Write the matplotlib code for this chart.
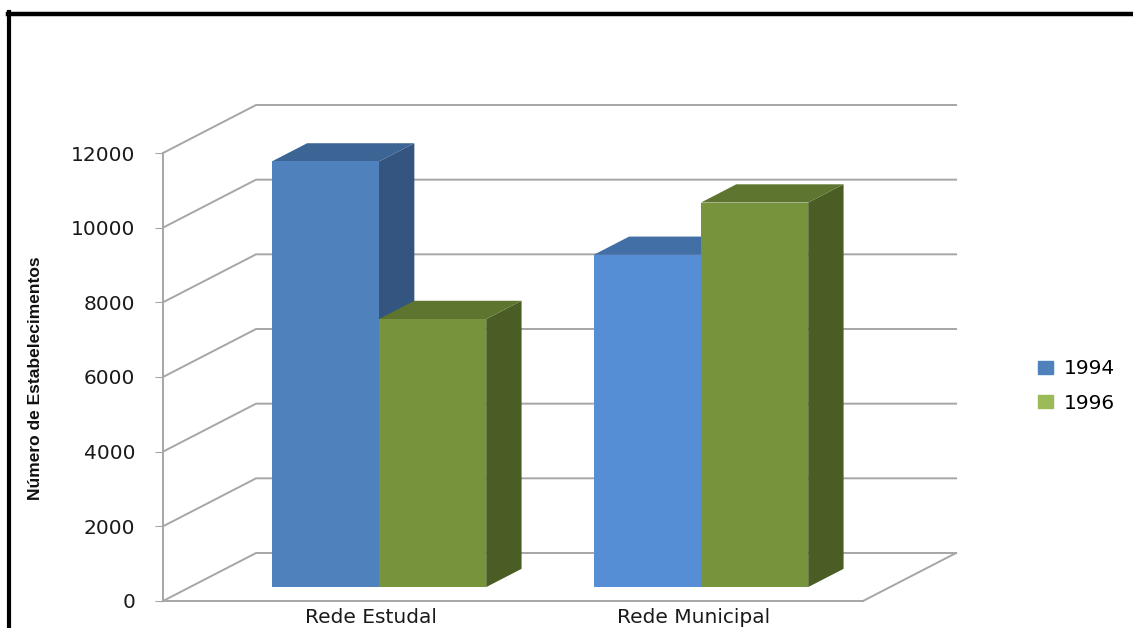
import matplotlib.pyplot as plt
from matplotlib.lines import Line2D
from matplotlib.patches import Patch

# data
categories = ['Rede Estudal', 'Rede Municipal']
years = ['1994', '1996']
vals_1994 = [11400, 8900]
vals_1996 = [7180, 10300]
yticks = [0, 2000, 4000, 6000, 8000, 10000, 12000]

# colours (front, top, side) per bar
col_front = [['#4F81BD', '#77933C'], ['#558ED5', '#77933C']]
col_top = [['#3C6596', '#5E752F'], ['#416FA6', '#5E752F']]
col_side = [['#34557F', '#4A5D24'], ['#34557F', '#4A5D24']]
legend_cols = ['#4F81BD', '#9BBB59']
grid_col = '#A6A6A6'

W, H = 1133, 628
fig = plt.figure(figsize=(W / 100, H / 100), dpi=100)
ax = fig.add_axes([163 / W, 27 / H, 700 / W, 448 / H])
ax.set_xlim(-0.587, 1.587)
ax.set_ylim(0, 12000)

# fake 3d: depth vector in data units, bars sit between d0 and d1
DX, DV = 0.289, 1286
d0, d1 = 0.29, 0.67
bw = 0.333


def proj(x, d, v):
    return x + d * DX, v + d * DV


def poly(pts, color, z):
    xs, ys = zip(*[proj(*p) for p in pts])
    ax.fill(xs, ys, color=color, lw=0, zorder=z, clip_on=False)


x_left, x_right = ax.get_xlim()
# walls / gridlines
for v in yticks:
    a = proj(x_left, 0, v)
    b = proj(x_left, 1, v)
    c = proj(x_right, 1, v)
    ax.plot([a[0], b[0], c[0]], [a[1], b[1], c[1]], color=grid_col, lw=1.4,
            zorder=1, clip_on=False)
# floor right edge
a = proj(x_right, 0, 0)
b = proj(x_right, 1, 0)
ax.plot([a[0], b[0]], [a[1], b[1]], color=grid_col, lw=1.4, zorder=1, clip_on=False)

# bars
z = 3
for i, cat in enumerate(categories):
    for j, v in enumerate([vals_1994[i], vals_1996[i]]):
        x0 = i - bw + j * bw
        x1 = x0 + bw
        poly([(x1, d0, 0), (x1, d1, 0), (x1, d1, v), (x1, d0, v)], col_side[i][j], z)
        poly([(x0, d0, v), (x1, d0, v), (x1, d1, v), (x0, d1, v)], col_top[i][j], z)
        poly([(x0, d0, 0), (x1, d0, 0), (x1, d0, v), (x0, d0, v)], col_front[i][j], z)
        z += 1

# axes styling
for s in ['top', 'right']:
    ax.spines[s].set_visible(False)
ax.spines['left'].set_color(grid_col)
ax.spines['bottom'].set_color(grid_col)
ax.spines['left'].set_linewidth(1.4)
ax.spines['bottom'].set_linewidth(1.4)
ax.set_yticks(yticks)
ax.set_yticklabels([str(t) for t in yticks])
ax.tick_params(axis='y', length=6, pad=14, color=grid_col, labelsize=14.5,
               labelcolor='#1a1a1a')
ax.set_xticks([i + 0.06 for i in range(len(categories))])
ax.set_xticklabels(categories)
ax.tick_params(axis='x', length=0, pad=5, labelsize=14.5, labelcolor='#1a1a1a')
ax.patch.set_visible(False)

fig.text(36 / W, 1 - 378 / H, 'Número de Estabelecimentos', rotation=90,
         ha='center', va='center', fontsize=12.5, fontweight='bold',
         family=['Liberation Sans', 'DejaVu Sans'], color='#111111')

handles = [Patch(color=c) for c in legend_cols]
fig.legend(handles, years, loc='center left', bbox_to_anchor=(1020 / W, 1 - 386 / H),
           frameon=False, fontsize=14.5, handlelength=0.75, handleheight=0.65,
           handletextpad=0.55, labelspacing=0.75)

# black frame on top and left
fig.add_artist(Line2D([8 / W, 1], [1 - 13.5 / H] * 2, color='black', lw=3.2,
                      transform=fig.transFigure))
fig.add_artist(Line2D([9.3 / W] * 2, [0, 1 - 12 / H], color='black', lw=3,
                      transform=fig.transFigure))

fig.savefig('out.png', dpi=100, facecolor='white')
